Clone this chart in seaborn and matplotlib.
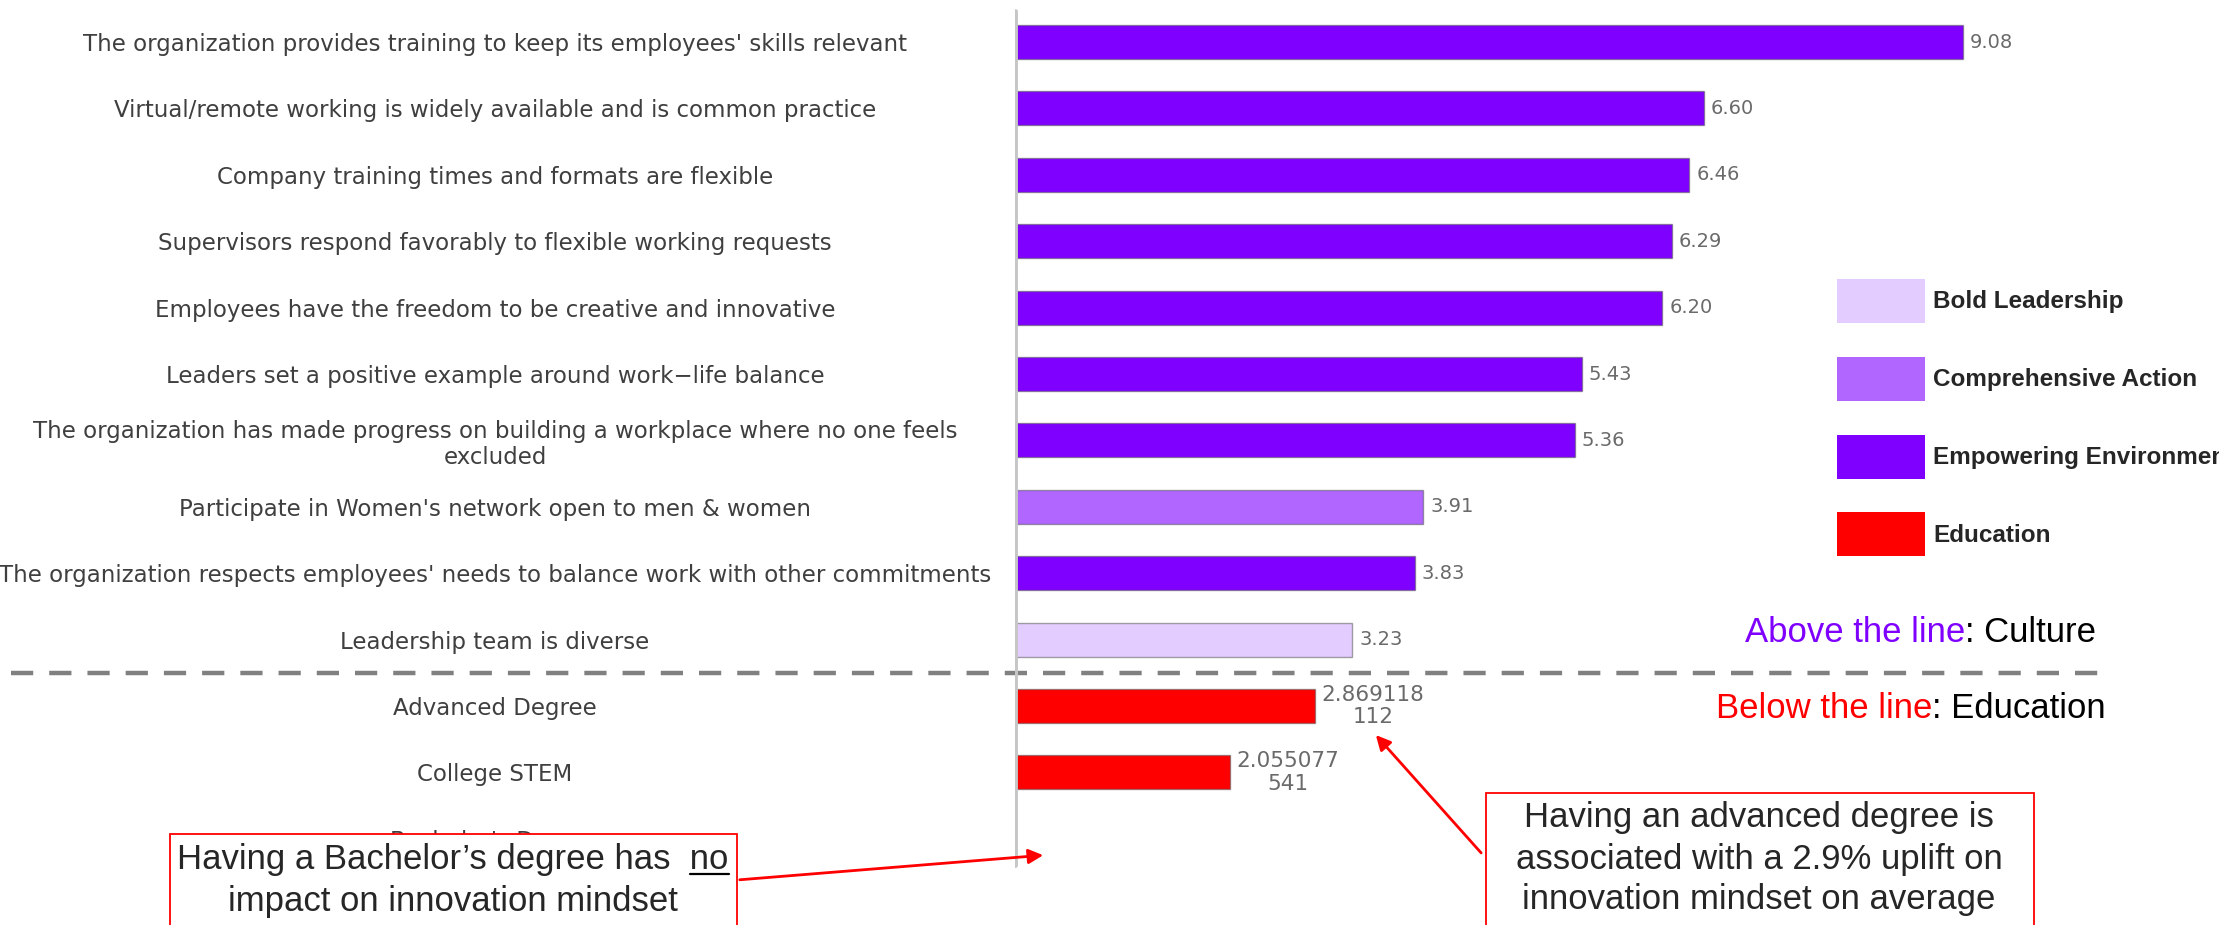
import matplotlib
matplotlib.use("Agg")
import matplotlib.pyplot as plt
from matplotlib.patches import Patch, Rectangle, FancyArrowPatch
from matplotlib.lines import Line2D
import seaborn as sns
import pandas as pd

# ---------------- data ----------------
items = [
    "The organization provides training to keep its employees' skills relevant",
    "Virtual/remote working is widely available and is common practice",
    "Company training times and formats are flexible",
    "Supervisors respond favorably to flexible working requests",
    "Employees have the freedom to be creative and innovative",
    "Leaders set a positive example around work\u2212life balance",
    "The organization has made progress on building a workplace where no one feels\nexcluded",
    "Participate in Women's network open to men & women",
    "The organization respects employees' needs to balance work with other commitments",
    "Leadership team is diverse",
    "Advanced Degree",
    "College STEM",
    "Bachelor's Degree",
]
values = [9.08, 6.60, 6.46, 6.29, 6.20, 5.43, 5.36, 3.91, 3.83, 3.23,
          2.869118112, 2.055077541, 0.0]
groups = ["Empowering Environment"] * 7 + ["Comprehensive Action",
          "Empowering Environment", "Bold Leadership",
          "Education", "Education", "Education"]
value_labels = ["9.08", "6.60", "6.46", "6.29", "6.20", "5.43", "5.36",
                "3.91", "3.83", "3.23", "2.869118\n112", "2.055077\n541", ""]

legend_labels = ["Bold Leadership", "Comprehensive Action",
                 "Empowering Environment", "Education"]
legend_colors = ["#E3CCFF", "#B066FF", "#7F00FF", "#FF0000"]
n_culture = 10

palette = dict(zip(legend_labels, legend_colors))
df = pd.DataFrame({"item": items, "value": values, "group": groups})

# ---------------- figure ----------------
W, H = 2219, 925
fig = plt.figure(figsize=(W / 100, H / 100), dpi=100)
sns.set_style("white")
plt.rcParams["font.family"] = ["DejaVu Sans"]

ax = fig.add_axes([1015 / W, 0, 1204 / W, 1])
sns.barplot(data=df, x="value", y="item", hue="group", palette=palette,
            dodge=False, width=0.51, orient="h", saturation=1, legend=False,
            edgecolor=(0.35, 0.35, 0.35, 0.55), linewidth=1.0, ax=ax)

px_per_unit = 104.4
row0, pitch = 42.0, 66.4
ax.set_xlim(0, 1204 / px_per_unit)
ax.set_ylim((H - row0) / pitch, -row0 / pitch)
for s in ax.spines.values():
    s.set_visible(False)
ax.set_xticks([])
ax.set_xlabel("")
ax.set_ylabel("")
ax.set_yticks(range(len(items)))
ax.set_yticklabels(items, ha="center", multialignment="center",
                   fontsize=16.5, color="#3f3f3f")
ax.tick_params(axis="y", length=0, pad=374.4)

# vertical axis line
ax.axvline(0, ymin=1 - 865 / H, ymax=1 - 11 / H, color="#c6c6c6", lw=3.5, zorder=5)

# dashed separator between culture and education
ax.axhline(n_culture - 0.5, xmin=(11 - 1015) / 1204, xmax=(2099 - 1015) / 1204,
           color="#808080", lw=3.2, dashes=(5, 3.6), clip_on=False)

# value labels
gap = 7 / px_per_unit
for i, (v, lab) in enumerate(zip(values, value_labels)):
    if lab:
        two = "\n" in lab
        ax.text(v + gap, i, lab, ha="left", va="center", multialignment="center",
                fontsize=15.5 if two else 14, linespacing=1.15 if two else 1.2,
                color="#6a6a6a")

# legend
handles = [Patch(facecolor=c, edgecolor="none") for c in legend_colors]
fs_leg = 17.5
fig.legend(handles, legend_labels, loc="upper left",
           bbox_to_anchor=(1837 / W, 1 - 279 / H), frameon=False,
           borderpad=0, borderaxespad=0,
           prop={"family": "Liberation Sans", "weight": "bold", "size": fs_leg},
           handlelength=3.62, handleheight=2.41, handletextpad=0.33,
           labelspacing=1.39)

# Above / below the line
arial = {"family": "Liberation Sans", "size": 25}
t_a = fig.text(1745 / W, 1 - 633 / H, "Above the line", color="#7F00FF",
               ha="left", va="center", fontdict=arial)
ax.annotate(": Culture", xy=(1, 0.5), xycoords=t_a, ha="left", va="center",
            color="black", annotation_clip=False,
            fontfamily="Liberation Sans", fontsize=25)
t_b = fig.text(1716 / W, 1 - 709 / H, "Below the line", color="#FF0000",
               ha="left", va="center", fontdict=arial)
ax.annotate(": Education", xy=(1, 0.5), xycoords=t_b, ha="left", va="center",
            color="black", annotation_clip=False,
            fontfamily="Liberation Sans", fontsize=25)

# annotation boxes
def fx(x):
    return x / W

def fy(y):
    return 1 - y / H

box1 = Rectangle((fx(170), fy(935)), fx(737) - fx(170), fy(834) - fy(935),
                 transform=fig.transFigure, facecolor="white", edgecolor="#FF0000",
                 lw=1.3, zorder=10)
box2 = Rectangle((fx(1486), fy(935)), fx(2034) - fx(1486), fy(793) - fy(935),
                 transform=fig.transFigure, facecolor="white", edgecolor="#FF0000",
                 lw=1.3, zorder=10)
fig.add_artist(box1)
fig.add_artist(box2)

t1 = fig.text(fx(453), fy(859), "Having a Bachelor\u2019s degree has  no",
              ha="center", va="center", fontdict=arial, zorder=11)
fig.text(fx(453), fy(901), "impact on innovation mindset",
         ha="center", va="center", fontdict=arial, zorder=11)

for k, line in enumerate(["Having an advanced degree is",
                          "associated with a 2.9% uplift on",
                          "innovation mindset on average"]):
    fig.text(fx(1759), fy(818 + 41 * k), line, ha="center", va="center",
             fontdict=arial, zorder=11)

# underline "no"
renderer = fig.canvas.get_renderer()
bb = t1.get_window_extent(renderer)
tmp = fig.text(0, 0, "no", fontdict=arial)
wno = tmp.get_window_extent(renderer).width
tmp.remove()
fig.add_artist(Line2D([(bb.x1 - wno) / W, bb.x1 / W], [fy(874), fy(874)],
                      transform=fig.transFigure, color="black", lw=1.6, zorder=12))

# arrows
arr1 = FancyArrowPatch((fx(737), fy(880)), (fx(1046), fy(855)),
                       transform=fig.transFigure, arrowstyle="-|>",
                       mutation_scale=22, color="#FF0000", lw=2, zorder=12)
arr2 = FancyArrowPatch((fx(1483), fy(855)), (fx(1374), fy(733)),
                       transform=fig.transFigure, arrowstyle="-|>",
                       mutation_scale=22, color="#FF0000", lw=2, zorder=12)
fig.add_artist(arr1)
fig.add_artist(arr2)

fig.savefig("out.png", dpi=100)
